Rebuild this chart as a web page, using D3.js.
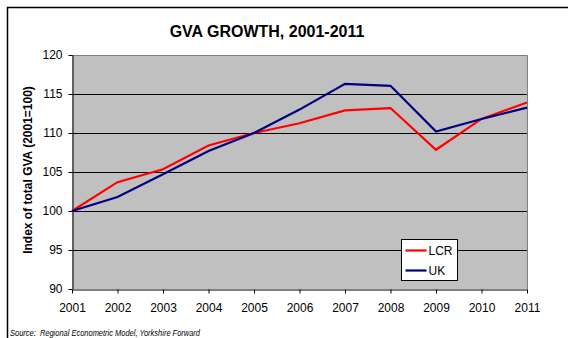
<!DOCTYPE html>
<html>
<head>
<meta charset="utf-8">
<script src="https://cdn.jsdelivr.net/npm/d3@7"></script>
<style>
  html, body { margin: 0; padding: 0; background: #fff; }
  svg { display: block; font-family: "Liberation Sans", Arial, sans-serif; }
</style>
</head>
<body>
<svg id="chart" width="568" height="338"></svg>
<script>
// Years on the x axis
const years = [2001, 2002, 2003, 2004, 2005, 2006, 2007, 2008, 2009, 2010, 2011];
// Index of total GVA (2001 = 100)
const lcr = [100, 103.7, 105.35, 108.4, 110, 111.25, 112.9, 113.2, 107.85, 111.8, 113.9];
const uk  = [100, 101.8, 104.7, 107.7, 110, 113.0, 116.3, 116.05, 110.2, 111.8, 113.25];
const yTicks = [90, 95, 100, 105, 110, 115, 120];
const seriesNames = ["LCR", "UK"];
const seriesColors = ["#ff0000", "#000080"];

const svg = d3.select("#chart");

// Outer frame (top and left edges)
svg.append("path")
  .attr("d", "M7.5,338 V7.5 H568")
  .attr("fill", "none").attr("stroke", "#000").attr("stroke-width", 1.5);

const plot = { left: 72, right: 527, top: 55, bottom: 289 };

const x = d3.scaleLinear().domain([2001, 2011]).range([plot.left, plot.right]);
const y = d3.scaleLinear().domain([90, 120]).range([plot.bottom, plot.top]);

// Plot background
svg.append("rect")
  .attr("x", plot.left).attr("y", plot.top)
  .attr("width", plot.right - plot.left).attr("height", plot.bottom - plot.top)
  .attr("fill", "#c0c0c0");

// Horizontal gridlines
svg.append("g").selectAll("line")
  .data(yTicks.filter(v => v > 90 && v < 120))
  .join("line")
  .attr("x1", plot.left).attr("x2", plot.right)
  .attr("y1", d => Math.round(y(d)) + 0.5).attr("y2", d => Math.round(y(d)) + 0.5)
  .attr("stroke", "#000").attr("stroke-width", 1);

// Top and right plot border
svg.append("path")
  .attr("d", `M${plot.left},${plot.top + 0.5} H${plot.right + 0.5} V${plot.bottom}`)
  .attr("fill", "none").attr("stroke", "#808080").attr("stroke-width", 1);

// Y axis
const yAxis = svg.append("g")
  .attr("transform", `translate(${plot.left + 0.5},0)`)
  .call(d3.axisLeft(y).tickValues(yTicks).tickSize(4).tickSizeOuter(0).tickPadding(6));
yAxis.select(".domain").attr("stroke", "#000");
yAxis.selectAll(".tick line").attr("stroke", "#000");
yAxis.selectAll("text").attr("font-size", 12).attr("fill", "#000")
  .attr("font-family", "Liberation Sans, Arial, sans-serif");

// X axis
const xAxis = svg.append("g")
  .attr("transform", `translate(0,${plot.bottom + 0.5})`)
  .call(d3.axisBottom(x).tickValues(years).tickFormat(d3.format("d")).tickSize(4).tickSizeOuter(0).tickPadding(10));
xAxis.select(".domain").attr("stroke", "#000");
xAxis.selectAll(".tick line").attr("stroke", "#000");
xAxis.selectAll("text").attr("font-size", 12).attr("fill", "#000")
  .attr("font-family", "Liberation Sans, Arial, sans-serif");

// Lines
const line = d3.line().x((d, i) => x(years[i])).y(d => y(d));
[lcr, uk].forEach((vals, k) => {
  svg.append("path")
    .datum(vals)
    .attr("d", line)
    .attr("fill", "none")
    .attr("stroke", seriesColors[k])
    .attr("stroke-width", 2.2)
    .attr("stroke-linejoin", "miter");
});

// Title
svg.append("text")
  .attr("x", 267).attr("y", 37)
  .attr("text-anchor", "middle")
  .attr("font-size", 16).attr("font-weight", "bold")
  .text("GVA GROWTH, 2001-2011");

// Y axis title
svg.append("text")
  .attr("transform", `translate(32,${(plot.top + plot.bottom) / 2 - 2}) rotate(-90)`)
  .attr("text-anchor", "middle")
  .attr("font-size", 12).attr("font-weight", "bold")
  .text("Index of total GVA (2001=100)");

// Legend
const legend = svg.append("g").attr("transform", "translate(401.5,239.5)");
legend.append("rect")
  .attr("width", 56).attr("height", 41)
  .attr("fill", "#fff").attr("stroke", "#000").attr("stroke-width", 1);
seriesNames.forEach((name, i) => {
  const cy = 11 + i * 20;
  legend.append("line")
    .attr("x1", 4).attr("x2", 25).attr("y1", cy).attr("y2", cy)
    .attr("stroke", seriesColors[i]).attr("stroke-width", 2.2);
  legend.append("text")
    .attr("x", 27).attr("y", cy + 4.5)
    .attr("font-size", 12)
    .text(name);
});

// Source note (condensed italic)
svg.append("text")
  .attr("x", 10).attr("y", 336)
  .attr("font-size", 9).attr("font-style", "italic")
  .attr("textLength", 190).attr("lengthAdjust", "spacingAndGlyphs")
  .attr("xml:space", "preserve")
  .text("Source:  Regional Econometric Model, Yorkshire Forward");
</script>
</body>
</html>
